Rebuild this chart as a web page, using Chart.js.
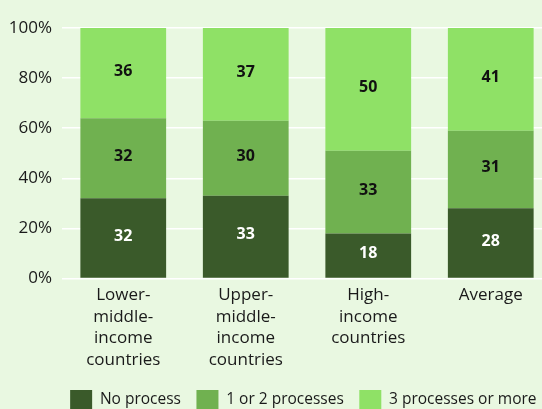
<!DOCTYPE html>
<html>
<head>
<meta charset="utf-8">
<script src="https://cdn.jsdelivr.net/npm/chart.js@4.4.1/dist/chart.umd.min.js"></script>
<style>
  html, body { margin: 0; padding: 0; background: #e9f8e1; overflow: hidden; }
  #wrap { width: 552px; height: 420px; position: relative; }
</style>
</head>
<body>
<div id="wrap"><canvas id="c"></canvas></div>
<script>
// Share of countries by number of processes (%)
const categories = [
  ['Lower-', 'middle-', 'income', 'countries'],
  ['Upper-', 'middle-', 'income', 'countries'],
  ['High-', 'income', 'countries'],
  ['Average']
];
const noProcess = [32, 33, 18, 28];
const oneOrTwo = [32, 30, 33, 31];
const threeOrMore = [36, 37, 50, 41];
const yTicks = [0, 20, 40, 60, 80, 100];

const seriesNames = ['No process', '1 or 2 processes', '3 processes or more'];
const seriesColors = ['#3a5a2a', '#70b150', '#8fe166'];
const labelColors = ['#ffffff', '#111111', '#111111'];

const FONT = "'Open Sans', 'Noto Sans', sans-serif";

// Writes each segment's value in the middle of its bar piece
const valueLabels = {
  id: 'valueLabels',
  afterDatasetsDraw(chart) {
    const { ctx, chartArea } = chart;
    ctx.save();
    ctx.font = `bold 16px ${FONT}`;
    ctx.textAlign = 'center';
    ctx.textBaseline = 'middle';
    chart.data.datasets.forEach((ds, i) => {
      chart.getDatasetMeta(i).data.forEach((bar, j) => {
        const top = Math.max(bar.y, chartArea.top);
        const mid = (top + bar.base) / 2 - 2;
        ctx.fillStyle = labelColors[i];
        ctx.fillText(String(ds.data[j]), bar.x, mid);
      });
    });
    ctx.restore();
  }
};

new Chart(document.getElementById('c'), {
  type: 'bar',
  data: {
    labels: categories,
    datasets: [noProcess, oneOrTwo, threeOrMore].map((d, i) => ({
      label: seriesNames[i],
      data: d,
      backgroundColor: seriesColors[i],
      borderWidth: 0,
      barPercentage: 0.7,
      categoryPercentage: 1.0
    }))
  },
  options: {
    responsive: true,
    maintainAspectRatio: false,
    animation: false,
    layout: { padding: { top: 28, right: 0, left: 0, bottom: 0 } },
    plugins: {
      legend: {
        position: 'bottom',
        align: 'end',
        labels: {
          boxWidth: 22,
          boxHeight: 20,
          padding: 15.5,
          color: '#1a1a1a',
          font: { family: FONT, size: 15.5 }
        }
      },
      tooltip: { enabled: false }
    },
    scales: {
      x: {
        stacked: true,
        afterFit(axis) { axis.height = 96; },
        grid: { display: false, drawTicks: false },
        border: { display: false },
        ticks: {
          color: '#1a1a1a',
          padding: 6,
          maxRotation: 0,
          autoSkip: false,
          font: { family: FONT, size: 17, lineHeight: 1.27 }
        }
      },
      y: {
        stacked: true,
        min: 0,
        max: 100,
        afterBuildTicks(axis) { axis.ticks = yTicks.map(v => ({ value: v })); },
        afterFit(axis) { axis.width = 62; },
        grid: { color: '#ffffff', lineWidth: 1.5, drawTicks: false },
        border: { display: false },
        ticks: {
          color: '#1a1a1a',
          padding: 10,
          font: { family: FONT, size: 17 },
          callback: v => v + '%'
        }
      }
    }
  },
  plugins: [valueLabels]
});
</script>
</body>
</html>
